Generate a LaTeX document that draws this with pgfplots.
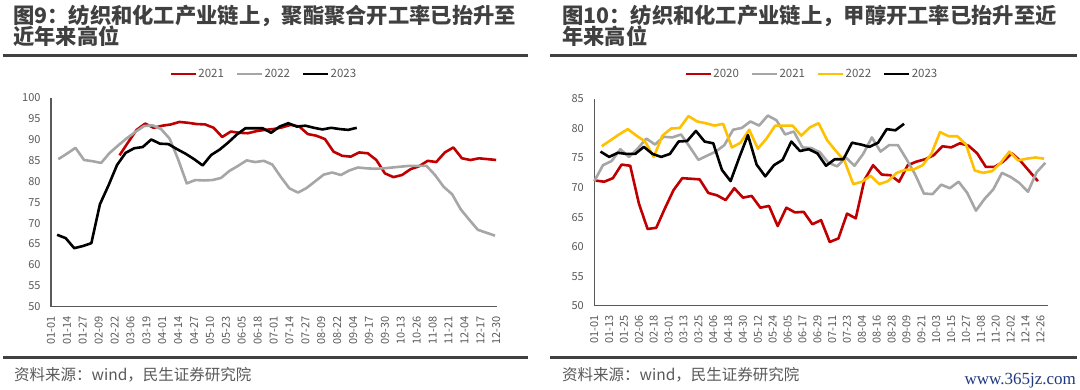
\documentclass[border=0pt]{standalone}
\usepackage{fontspec}
\usepackage{pgfplots}
\pgfplotsset{compat=1.18}
\newfontfamily\cjk{Noto Sans CJK SC}
\newfontfamily\wm{Liberation Serif}
\definecolor{cred}{RGB}{192,0,0}
\definecolor{cgray}{RGB}{166,166,166}
\definecolor{cyel}{RGB}{255,192,0}
\definecolor{ctext}{RGB}{64,64,64}
\definecolor{ctick}{RGB}{89,89,89}
\definecolor{cwm}{RGB}{32,56,130}
\pgfplotsset{
  myaxis/.style={
    scale only axis,
    axis x line*=bottom, axis y line*=left,
    axis line style={-, draw=ctick, line width=1.1pt},
    major tick length=0pt,
    tick label style={font=\cjk\fontsize{11}{11}\selectfont, text=ctick},
    /pgf/number format/assume math mode=true,
    x tick label style={rotate=90, anchor=east},
    xticklabel shift=6pt,
    yticklabel shift=7pt,
    legend style={draw=none, fill=none, legend columns=-1,
      font=\cjk\fontsize{11.5}{12}\selectfont, text=ctick, inner sep=0pt,
      nodes={inner sep=1pt},
      /tikz/every odd column/.append style={column sep=0pt},
      /tikz/every even column/.append style={column sep=11pt}},
    legend image code/.code={\draw[#1] (0pt,0pt) -- (25pt,0pt);},
    every axis plot/.append style={line width=2.6pt, line join=round, mark=none},
    clip=false,
  }
}
\begin{document}
\begin{tikzpicture}[x=1pt,y=1pt]
\path[use as bounding box] (0,0) rectangle (1080,390);
% titles
\tikzset{ttl/.style={anchor=base west, inner sep=0pt, text=ctext, font=\cjk\bfseries\fontsize{21.3}{22}\selectfont}}
\node[ttl] at (13,366.5) {图9：纺织和化工产业链上，聚酯聚合开工率已抬升至};
\node[ttl] at (13,345) {近年来高位};
\node[ttl] at (562,366.5) {图10：纺织和化工产业链上，甲醇开工率已抬升至近};
\node[ttl] at (562,345) {年来高位};
\draw[ctext, line width=3pt] (3,334.3) -- (528,334.3);
\draw[ctext, line width=3pt] (550,334.3) -- (1077,334.3);
\draw[ctext, line width=3pt] (3,32.5) -- (528,32.5);
\draw[ctext, line width=3pt] (550,32.5) -- (1077,32.5);
\node[anchor=base west, inner sep=0pt, text=ctick, font=\cjk\fontsize{15.5}{16}\selectfont] at (14,9.5) {资料来源：wind，民生证券研究院};
\node[anchor=base west, inner sep=0pt, text=ctick, font=\cjk\fontsize{15.5}{16}\selectfont] at (562,9.5) {资料来源：wind，民生证券研究院};
\node[anchor=base east, inner sep=0pt, text=cwm, font=\wm\fontsize{17}{17}\selectfont] at (1076,5) {www.365jz.com};

% left chart
\begin{axis}[myaxis,
  at={(51pt,83.3pt)}, anchor=south west, width=446.4pt, height=209pt,
  xmin=0, xmax=365, ymin=50, ymax=100,
  xtick={0,13,...,364},
  xticklabels={01-01,01-14,01-27,02-09,02-22,03-06,03-19,04-01,04-14,04-27,05-10,05-23,06-05,06-18,07-01,07-14,07-27,08-09,08-22,09-04,09-17,09-30,10-13,10-26,11-08,11-21,12-04,12-17,12-30},
  ytick={50,55,...,100},
  legend style={at={(0.476,1.113)}, anchor=center},
]
\addplot[cred] coordinates {(56,86.2)(63,89.3)(70,92.3)(77,93.8)(84,92.8)(91,93.3)(98,93.6)(105,94.2)(112,94.0)(119,93.7)(126,93.6)(133,92.8)(140,90.6)(147,91.9)(154,91.6)(161,91.5)(168,92.0)(175,92.3)(182,92.5)(189,92.9)(196,93.5)(203,93.1)(210,91.3)(217,90.9)(224,90.1)(231,87.1)(238,86.1)(245,85.9)(252,86.9)(259,86.7)(266,85.1)(273,81.9)(280,81.0)(287,81.5)(294,82.9)(301,83.6)(308,84.9)(315,84.6)(322,86.9)(329,88.1)(336,85.5)(343,85.1)(350,85.5)(357,85.3)(364,85.1)};
\addlegendentry{2021}
\addplot[cgray] coordinates {(6,85.3)(13,86.6)(20,88.0)(27,85.1)(34,84.8)(41,84.4)(48,86.8)(55,88.6)(62,90.3)(69,91.8)(76,93.2)(83,93.4)(90,92.5)(97,90.2)(104,85.2)(111,79.5)(118,80.3)(125,80.2)(132,80.3)(139,80.8)(146,82.5)(153,83.7)(160,85.0)(167,84.6)(174,84.9)(181,84.0)(188,81.0)(195,78.3)(202,77.3)(209,78.4)(216,80.0)(223,81.6)(230,82.1)(237,81.5)(244,82.6)(251,83.3)(258,83.1)(265,83.0)(272,83.1)(279,83.3)(286,83.5)(293,83.7)(300,83.7)(307,83.7)(314,81.5)(321,78.7)(328,76.9)(335,73.3)(342,70.8)(349,68.4)(356,67.7)(363,67.0)};
\addlegendentry{2022}
\addplot[black] coordinates {(5,67.2)(12,66.4)(19,64.0)(26,64.5)(33,65.2)(40,74.5)(47,79.0)(54,83.9)(61,86.8)(68,87.9)(75,88.2)(82,90.0)(89,89.0)(96,88.9)(103,87.7)(110,86.6)(117,85.3)(124,83.8)(131,86.3)(138,87.6)(145,89.3)(152,91.2)(159,92.7)(166,92.7)(173,92.7)(180,91.6)(187,93.1)(194,93.9)(201,93.1)(208,93.3)(215,92.8)(222,92.4)(229,92.8)(236,92.5)(243,92.3)(250,92.8)};
\addlegendentry{2023}
\end{axis}

% right chart
\begin{axis}[myaxis,
  at={(594.3pt,84.2pt)}, anchor=south west, width=453.5pt, height=206.8pt,
  xmin=0, xmax=366, ymin=50, ymax=85,
  xtick={0,12,...,360},
  xticklabels={01-01,01-13,01-25,02-06,02-18,03-01,03-13,03-25,04-06,04-18,04-30,05-12,05-24,06-05,06-17,06-29,07-11,07-23,08-04,08-16,08-28,09-09,09-21,10-03,10-15,10-27,11-08,11-20,12-02,12-14,12-26},
  ytick={50,55,...,85},
  legend style={at={(0.479,1.121)}, anchor=center},
]
\addplot[cred] coordinates {(1,71.2)(8,71.0)(15,71.6)(22,73.9)(29,73.7)(36,67.3)(43,63.0)(50,63.2)(57,66.5)(64,69.6)(71,71.6)(78,71.5)(85,71.4)(92,69.1)(99,68.7)(106,67.9)(113,69.9)(120,68.3)(127,68.6)(134,66.6)(141,66.9)(148,63.5)(155,66.6)(162,65.8)(169,65.9)(176,63.8)(183,64.5)(190,60.8)(197,61.4)(204,65.6)(211,64.8)(218,71.3)(225,73.8)(232,72.2)(239,72.1)(246,71.0)(253,73.8)(260,74.4)(267,74.8)(274,75.5)(281,77.0)(288,76.8)(295,77.5)(302,77.1)(309,75.8)(316,73.5)(323,73.5)(330,74.4)(337,75.8)(344,74.5)(351,72.8)(358,71.1)};
\addlegendentry{2020}
\addplot[cgray] coordinates {(0,71.1)(7,73.8)(14,74.5)(21,76.5)(28,75.2)(35,76.6)(42,78.3)(49,77.3)(56,78.6)(63,78.5)(70,79.0)(77,76.9)(84,74.7)(91,75.4)(98,76.1)(105,77.2)(112,79.8)(119,80.1)(126,81.2)(133,80.5)(140,82.2)(147,81.4)(154,79.0)(161,79.5)(168,76.8)(175,76.7)(182,76.0)(189,74.2)(196,73.6)(203,75.1)(210,73.7)(217,75.7)(224,78.5)(231,76.1)(238,77.2)(245,77.2)(252,74.8)(259,72.2)(266,69.0)(273,68.9)(280,70.5)(287,69.9)(294,71.0)(301,69.1)(308,66.1)(315,68.1)(322,69.7)(329,72.5)(336,71.8)(343,70.8)(350,69.3)(357,72.6)(364,74.2)};
\addlegendentry{2021}
\addplot[cyel] coordinates {(6,77.0)(13,78.0)(20,79.0)(27,79.9)(34,78.8)(41,77.8)(48,75.2)(55,78.8)(62,80.0)(69,80.1)(76,82.1)(83,81.2)(90,80.9)(97,80.5)(104,80.8)(111,76.8)(118,77.6)(125,79.8)(132,76.6)(139,78.3)(146,80.5)(153,80.5)(160,80.5)(167,78.8)(174,80.2)(181,80.9)(188,78.0)(195,76.2)(202,74.5)(209,70.6)(216,71.0)(223,72.0)(230,70.6)(237,71.1)(244,72.5)(251,73.0)(258,73.1)(265,73.8)(272,75.7)(279,79.4)(286,78.7)(293,78.7)(300,77.3)(307,72.9)(314,72.5)(321,72.8)(328,74.2)(335,76.1)(342,74.6)(349,74.9)(356,75.1)(363,74.9)};
\addlegendentry{2022}
\addplot[black] coordinates {(5,76.1)(12,75.2)(19,75.9)(26,75.7)(33,75.7)(40,76.9)(47,75.7)(54,75.2)(61,75.7)(68,77.8)(75,77.9)(82,79.6)(89,77.8)(96,77.5)(103,73.0)(110,71.1)(117,75.1)(124,78.9)(131,73.9)(138,71.9)(145,73.8)(152,74.7)(159,77.8)(166,76.2)(173,76.5)(180,75.8)(187,73.7)(194,74.8)(201,74.8)(208,77.6)(215,77.3)(222,76.9)(229,77.6)(236,79.9)(243,79.7)(250,80.8)};
\addlegendentry{2023}
\end{axis}
\end{tikzpicture}
\end{document}
